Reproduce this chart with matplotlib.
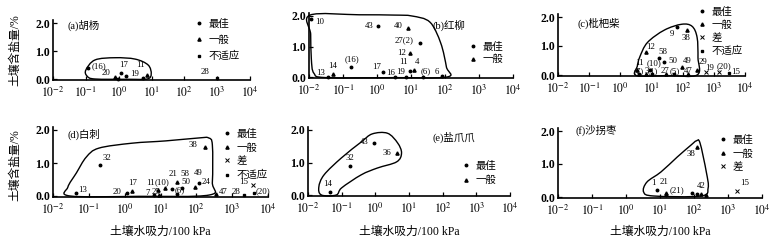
import numpy as np
import matplotlib
matplotlib.use("Agg")
import matplotlib.pyplot as plt
from matplotlib.path import Path
from matplotlib.patches import PathPatch
from matplotlib.lines import Line2D

plt.rcParams['font.family'] = ['Liberation Serif', 'Noto Sans CJK SC']
plt.rcParams['mathtext.fontset'] = 'stix'
plt.rcParams['axes.unicode_minus'] = False

W, H = 778, 244

# ---- data (x: 土壤水吸力/100 kPa, y: 土壤含盐量/%) ----
# kinds: b=最佳, g=一般, p=差, u=不适应
a_x = [0.12, 1.2, 0.78, 1.7, 7.4, 1000, 5.5, 0.95]
a_y = [0.40, 0.22, 0.07, 0.10, 0.14, 0.03, 0.03, 0.01]
a_kind = ['b', 'b', 'g', 'b', 'g', 'u', 'b', 'b']
a_lab = ['(16)', '17', '20', '19', '11', '28', '', '']
a_env_x = [0.10, 0.19, 0.78, 3.2, 7.9, 9.8, 7.4, 2.0, 0.19, 0.11]
a_env_y = [0.32, 0.68, 0.76, 0.71, 0.50, 0.18, 0.0, -0.01, 0.0, 0.10]

b_x = [0.0115, 1.07, 8.1, 18, 9.4, 9.4, 12.3, 0.17, 0.051, 0.036, 1.5, 3.4, 7.1, 22, 81]
b_y = [1.90, 1.67, 1.60, 1.11, 0.79, 0.20, 0.23, 0.33, 0.10, 0.0, 0.16, 0.0, 0.0, 0.0, 0.03]
b_kind = ['b', 'b', 'g', 'b', 'g', 'b', 'g', 'b', 'g', 'b', 'b', 'b', 'b', 'b', 'b']
b_lab = ['10', '43', '40', '27(2)', '12', '11', '4', '(16)', '14', '13', '17', '16', '19', '(6)', '6']
b_env_x = [0.0107, 0.3, 3.2, 10.7, 36, 75, 110, 115, 3.2, 0.032, 0.014, 0.0117, 0.0112]
b_env_y = [2.03, 2.04, 2.03, 2.0, 1.80, 1.11, 0.33, 0.0, -0.02, -0.02, 0.12, 0.6, 1.4]

c_x = [65, 135, 6.5, 18, 26, 93, 280, 550, 1450, 3000, 3.5, 8.7, 4.1, 6.5, 10.7, 30, 51, 145]
c_y = [1.66, 1.55, 0.79, 0.59, 0.45, 0.28, 0.17, 0.10, 0.10, 0.07, 0.17, 0.17, 0.02, 0.02, 0.02, 0.02, 0.02, 0.02]
c_kind = ['b', 'g', 'g', 'b', 'b', 'g', 'g', 'p', 'p', 'u', 'g', 'b', 'b', 'g', 'b', 'g', 'b', 'g']
c_lab = ['9', '38', '12', '58', '50', '49', '29', '19', '(20)', '15', '11', '(10)',
         '(7)', '3', '(1)', '27', '(5)', '47']
c_env_x = [3.3, 3.5, 4.2, 7.4, 26, 93, 200, 290, 310, 290, 32]
c_env_y = [-0.02, 0.3, 0.62, 1.12, 1.55, 1.75, 1.68, 1.30, 0.60, 0.0, -0.02]

d_x = [170, 0.21, 1.6, 1.15, 0.045, 8.5, 13.5, 21, 40, 29, 93, 115, 6.6, 9.1, 29, 360, 2100, 3800, 4000]
d_y = [1.48, 0.94, 0.15, 0.09, 0.09, 0.18, 0.24, 0.21, 0.24, 0.42, 0.27, 0.39, 0.03, 0.04, 0.05, 0.05, 0.03, 0.33, 0.08]
d_kind = ['g', 'b', 'g', 'b', 'b', 'g', 'g', 'b', 'b', 'g', 'g', 'b', 'b', 'g', 'b', 'g', 'u', 'p', 'u']
d_lab = ['38', '32', '17', '20', '13', '11', '(10)', '21', '58', '50', '49', '24',
         '7', '25', '(6)', '47', '28', '15', '(20)']
d_env_x = [0.030, 0.026, 0.045, 0.085, 0.19, 1.6, 14, 120, 220, 280, 280, 230, 2.5]
d_env_y = [0.0, 0.27, 0.70, 1.18, 1.45, 1.60, 1.67, 1.76, 1.76, 1.55, 0.42, 0.03, -0.01]

e_x = [0.93, 4.3, 0.18, 0.046]
e_y = [1.60, 1.29, 0.89, 0.10]
e_kind = ['b', 'g', 'b', 'b']
e_lab = ['43', '36', '32', '14']
e_env_x = [0.025, 0.021, 0.030, 0.098, 0.38, 0.81, 2.3, 4.6, 6.0, 4.3, 1.15, 0.38, 0.10, 0.069]
e_env_y = [0.0, 0.25, 0.62, 1.14, 1.63, 1.88, 1.90, 1.60, 1.29, 1.02, 0.83, 0.62, 0.22, 0.0]

f_x = [123, 8.1, 15, 90, 120, 163, 1780, 15, 230]
f_y = [1.52, 0.21, 0.12, 0.12, 0.09, 0.09, 0.18, 0.05, 0.05]
f_kind = ['g', 'b', 'g', 'b', 'b', 'g', 'p', 'b', 'g']
f_lab = ['38', '1', '21', '(21)', '', '42', '15', '', '']
f_env_x = [3.3, 4.1, 10.7, 32, 83, 117, 150, 230, 260, 160, 6.6]
f_env_y = [0.15, 0.45, 0.76, 1.21, 1.58, 1.70, 1.64, 0.76, 0.27, 0.03, 0.03]

titles = ['(a)胡杨', '(b)红柳', '(c)枇杷柴', '(d)白刺', '(e)盐爪爪', '(f)沙拐枣']
kind_names = {'b': '最佳', 'g': '一般', 'p': '差', 'u': '不适应'}
legend_kinds = [['b', 'g', 'u'], ['b', 'g'], ['b', 'g', 'p', 'u'],
                ['b', 'g', 'p', 'u'], ['b', 'g'], ['b', 'g', 'p']]
xticks = [1e-2, 1e-1, 1e0, 1e1, 1e2, 1e3, 1e4]
xticklabels = [r'$10^{-2}$', r'$10^{-1}$', r'$10^{0}$', r'$10^{1}$', r'$10^{2}$', r'$10^{3}$', r'$10^{4}$']

# ---- styles / layout ----
marker_style = {'b': dict(marker='o', ms=1.8),
                'g': dict(marker='^', ms=2.3),
                'p': dict(marker='x', ms=2.3, mew=0.7),
                'u': dict(marker='s', ms=1.6)}

# label offsets in pixels (dx, dy up)
a_off = [(11, 2), (2, 8), (-9, 4), (8, 2), (-7, 10), (-12, 6), (0, 0), (0, 0)]
b_off = [(9, -3), (-9, 0), (-10, 2), (-16, 3), (-8, 0), (-7, 9), (3, 8), (1, 8), (0, 8),
         (-7, 4), (-6, 5), (-4, 4), (-5, 5), (3, 6), (-5, 4)]
c_off = [(-5, -7), (-1, -8), (5, 5), (3, 6), (9, 1), (6, 6), (6, 8), (4, 4), (5, 6), (7, 1),
         (2, 7), (4, 7), (-1, 3), (1, 3), (0, 3), (-1, 3), (1, 3), (0, 3)]
d_off = [(-12, 2), (7, 7), (1, 8), (-10, 1), (6, 3), (-7, 7), (-3, 6), (1, 15), (3, 14),
         (9, 0), (3, 14), (7, 1), (-6, 2), (-3, 3), (3, 4), (7, 2), (-8, 3), (-9, 3), (9, 2)]
e_off = [(-10, 1), (-10, 0), (0, 8), (-3, 8)]
f_off = [(-6, -7), (-3, 7), (-2, 11), (-16, 3), (0, 0), (0, 8), (8, 8), (0, 0), (0, 0)]

# axes boxes: left px, right px, px of y=0, px of y=2
boxes = [(53, 250, 79, 23), (309, 513, 77, 16), (558, 745, 75, 17),
         (53, 268, 196, 130), (308, 510, 195, 130), (558, 762, 197, 131)]
YLO, YHI = -0.04, 2.1
title_pos = [(68, 25), (432, 25), (577, 23), (68, 134), (432, 137), (576, 130)]
# legend: marker x px, first row y px, labelspacing
legend_pos = [(199, 25, 0.6), (473, 48, 0.25), (702, 13, 0.32),
              (227, 135, 0.38), (466, 167, 0.45), (723, 141, 0.38)]

panels = [(a_x, a_y, a_kind, a_lab, a_off, a_env_x, a_env_y),
          (b_x, b_y, b_kind, b_lab, b_off, b_env_x, b_env_y),
          (c_x, c_y, c_kind, c_lab, c_off, c_env_x, c_env_y),
          (d_x, d_y, d_kind, d_lab, d_off, d_env_x, d_env_y),
          (e_x, e_y, e_kind, e_lab, e_off, e_env_x, e_env_y),
          (f_x, f_y, f_kind, f_lab, f_off, f_env_x, f_env_y)]


def envelope_patch(xs, ys):
    # closed smooth curve through the read-off outline points (Catmull-Rom as cubic Bezier)
    P = np.column_stack([np.log10(xs), ys])
    n = len(P)
    verts = [P[0]]
    codes = [Path.MOVETO]
    for i in range(n):
        p0, p1, p2, p3 = P[i - 1], P[i], P[(i + 1) % n], P[(i + 2) % n]
        verts += [p1 + (p2 - p0) / 6, p2 - (p3 - p1) / 6, p2]
        codes += [Path.CURVE4] * 3
    verts = np.array(verts)
    verts[:, 0] = 10 ** verts[:, 0]
    return Path(verts, codes)


fig = plt.figure(figsize=(W / 100, H / 100), dpi=100)

for i, (xs, ys, kinds, labs, offs, ex, ey) in enumerate(panels):
    L, R, y0, y2 = boxes[i]
    ppu = (y0 - y2) / 2.0
    top = y2 - (YHI - 2) * ppu
    bot = y0 - YLO * ppu
    ax = fig.add_axes([L / W, 1 - bot / H, (R - L) / W, (bot - top) / H])
    ax.set_xscale('log')
    ax.set_xlim(1e-2, 1e4)
    ax.set_ylim(YLO, YHI)
    for s in ['top', 'right']:
        ax.spines[s].set_visible(False)
    for s in ['left', 'bottom']:
        ax.spines[s].set_linewidth(1.2)
    ax.set_xticks(xticks)
    ax.set_xticklabels(xticklabels)
    ax.xaxis.set_minor_locator(matplotlib.ticker.NullLocator())
    ax.set_yticks([0, 1, 2])
    ax.set_yticklabels(['0.0', '1.0', '2.0'], fontweight='bold')
    ax.tick_params(direction='in', length=3, width=0.9, labelsize=8.5, pad=2)
    ax.tick_params(axis='x', pad=4)

    patch = PathPatch(envelope_patch(ex, ey), fill=False, lw=1.0, ec='black',
                      transform=ax.transData, clip_on=False)
    ax.add_patch(patch)

    for x, y, k, lab, off in zip(xs, ys, kinds, labs, offs):
        ax.plot([x], [y], ls='none', color='black', clip_on=False, **marker_style[k])
        if lab:
            ax.annotate(lab, (x, y), xytext=off, textcoords='offset pixels',
                        ha='center', va='center', fontsize=6.3)

    tx, ty = title_pos[i]
    fig.text(tx / W, 1 - ty / H, titles[i], ha='left', va='center', fontsize=7.5)

    mx, my, ls = legend_pos[i]
    handles = [Line2D([], [], ls='none', color='black', **marker_style[k]) for k in legend_kinds[i]]
    names = [kind_names[k] for k in legend_kinds[i]]
    fig.legend(handles, names, loc='upper left',
               bbox_to_anchor=((mx - 4) / W, 1 - (my - 6) / H),
               frameon=False, fontsize=7.5, handlelength=0.8, handletextpad=0.5,
               labelspacing=ls, borderpad=0, borderaxespad=0)

    if i >= 3:
        fig.text((L + R) / 2 / W, 1 - 232 / H, '土壤水吸力/100 kPa', ha='center', va='center',
                 fontsize=8.5)

fig.text(15 / W, 1 - 50 / H, '土壤含盐量/%', rotation=90, ha='center', va='center', fontsize=8.5)
fig.text(15 / W, 1 - 165 / H, '土壤含盐量/%', rotation=90, ha='center', va='center', fontsize=8.5)

fig.savefig('out.png', dpi=100)
